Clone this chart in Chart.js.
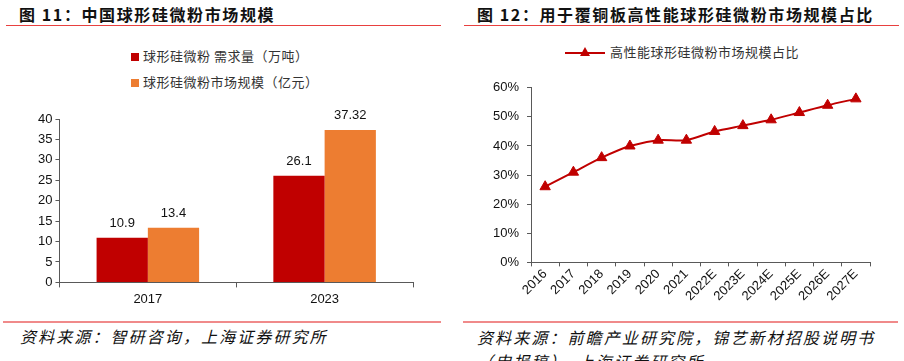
<!DOCTYPE html>
<html>
<head>
<meta charset="utf-8">
<script src="https://cdn.jsdelivr.net/npm/chart.js@4.4.0/dist/chart.umd.min.js"></script>
<style>
  body { margin: 0; width: 904px; height: 361px; background: #fff; overflow: hidden; position: relative;
         font-family: "Noto Sans CJK SC", "Noto Sans", sans-serif; }
  .title { position: absolute; top: 2px; font-size: 16px; font-weight: bold; letter-spacing: 1.6px; color: #111; white-space: nowrap; }
  .rule { position: absolute; height: 1px; background: #e8403f; }
  .frule { position: absolute; height: 2px; background: #f08a8a; }
  .foot { position: absolute; font-size: 16px; font-style: italic; letter-spacing: 2.1px; color: #111; line-height: 24px; white-space: nowrap; }
  .leg { position: absolute; font-size: 13px; color: #333; letter-spacing: 0.5px; white-space: nowrap; }
  .leg .row { height: 26px; line-height: 26px; }
  .sw { display: inline-block; width: 8px; height: 8px; margin-right: 4px; vertical-align: 0px; }
  .box { position: absolute; }
</style>
</head>
<body>
<div class="title" style="left:19px">图 11：中国球形硅微粉市场规模</div>
<div class="rule" style="left:6px; width:435px; top:25px"></div>
<div class="title" style="left:477px">图 12：用于覆铜板高性能球形硅微粉市场规模占比</div>
<div class="rule" style="left:464px; width:435px; top:25px"></div>

<div class="leg" id="leftLegend" style="left:131px; top:43px"></div>
<div class="leg" id="rightLegend" style="left:565px; top:42px"></div>

<div class="box" style="left:0px; top:100px; width:440px; height:211px"><canvas id="barChart"></canvas></div>
<div class="box" style="left:460px; top:72px; width:420px; height:232px"><canvas id="lineChart"></canvas></div>

<div class="frule" style="left:3px; width:438px; top:321px"></div>
<div class="frule" style="left:463px; width:435px; top:321px"></div>
<div class="foot" style="left:20px; top:324px">资料来源：智研咨询，上海证券研究所</div>
<div class="foot" style="left:477px; top:325px">资料来源：前瞻产业研究院，锦艺新材招股说明书<br>（申报稿），上海证券研究所</div>

<script>
// 图11 数据
const barYears = ["2017", "2023"];
const demandLabel = "球形硅微粉 需求量（万吨）";
const demandValues = [10.9, 26.1];
const marketLabel = "球形硅微粉市场规模（亿元）";
const marketValues = [13.4, 37.32];
const barTicks = [0, 5, 10, 15, 20, 25, 30, 35, 40];

// 图12 数据
const shareYears = ["2016", "2017", "2018", "2019", "2020", "2021", "2022E", "2023E", "2024E", "2025E", "2026E", "2027E"];
const shareLabel = "高性能球形硅微粉市场规模占比";
const shareValues = [26, 31, 36, 40, 42, 42, 45, 47, 49, 51.5, 54, 56.2];

const red = "#C00000";
const orange = "#ED7D31";
const axisColor = "#595959";
const numFont = { family: "Liberation Sans, Arial, sans-serif", size: 13 };

// 柱顶数值
const valueLabels = {
  id: "valueLabels",
  afterDatasetsDraw(chart) {
    const ctx = chart.ctx;
    ctx.save();
    ctx.font = "13px Liberation Sans, Arial, sans-serif";
    ctx.fillStyle = "#111";
    ctx.textAlign = "center";
    ctx.textBaseline = "bottom";
    chart.data.datasets.forEach((ds, i) => {
      chart.getDatasetMeta(i).data.forEach((bar, j) => {
        ctx.fillText(String(ds.data[j]), bar.x, bar.y - 8);
      });
    });
    ctx.restore();
  },
};

const barChart = new Chart(document.getElementById("barChart"), {
  type: "bar",
  data: {
    labels: barYears,
    datasets: [
      { label: demandLabel, data: demandValues, backgroundColor: red },
      { label: marketLabel, data: marketValues, backgroundColor: orange },
    ],
  },
  plugins: [valueLabels],
  options: {
    responsive: true,
    maintainAspectRatio: false,
    animation: false,
    categoryPercentage: 0.58,
    barPercentage: 1,
    layout: { padding: { left: 35, right: 27, top: 19, bottom: 0 } },
    plugins: { legend: { display: false }, tooltip: { enabled: false } },
    scales: {
      x: {
        grid: { drawOnChartArea: false, color: axisColor, tickLength: 5, offset: true },
        border: { color: axisColor },
        ticks: { color: "#111", font: numFont, padding: 4 },
      },
      y: {
        min: 0, max: 40,
        afterBuildTicks: (axis) => { axis.ticks = barTicks.map((v) => ({ value: v })); },
        grid: { drawOnChartArea: false, color: axisColor, tickLength: 4 },
        border: { color: axisColor },
        ticks: { color: "#111", font: numFont, padding: 3 },
      },
    },
  },
});

const lineChart = new Chart(document.getElementById("lineChart"), {
  type: "line",
  data: {
    labels: shareYears,
    datasets: [
      {
        label: shareLabel,
        data: shareValues,
        borderColor: red,
        backgroundColor: red,
        borderWidth: 2,
        tension: 0.25,
        pointStyle: "triangle",
        pointRadius: 6,
        pointBorderWidth: 1,
      },
    ],
  },
  options: {
    responsive: true,
    maintainAspectRatio: false,
    animation: false,
    layout: { padding: { left: 25, right: 10, top: 10, bottom: 0 } },
    plugins: { legend: { display: false }, tooltip: { enabled: false } },
    scales: {
      x: {
        offset: true,
        grid: { drawOnChartArea: false, color: axisColor, tickLength: 4, offset: true },
        border: { color: axisColor },
        ticks: { color: "#111", font: numFont, minRotation: 45, maxRotation: 45, padding: 0 },
      },
      y: {
        min: 0, max: 60,
        grid: { drawOnChartArea: false, color: axisColor, tickLength: 4 },
        border: { color: axisColor },
        ticks: { stepSize: 10, color: "#111", font: numFont, padding: 8, callback: (v) => v + "%" },
      },
    },
  },
});

// 图例
document.getElementById("leftLegend").innerHTML = barChart.data.datasets
  .map((ds) => `<div class="row"><span class="sw" style="background:${ds.backgroundColor}"></span>${ds.label}</div>`)
  .join("");
document.getElementById("rightLegend").innerHTML =
  `<span style="display:inline-block;position:relative;width:40px;height:10px;vertical-align:middle;margin-right:5px">
     <span style="position:absolute;left:0;top:4px;width:40px;height:2px;background:${red}"></span>
     <span style="position:absolute;left:15px;top:-1px;width:0;height:0;border-left:5px solid transparent;border-right:5px solid transparent;border-bottom:9px solid ${red}"></span>
   </span>${shareLabel}`;
</script>
</body>
</html>
